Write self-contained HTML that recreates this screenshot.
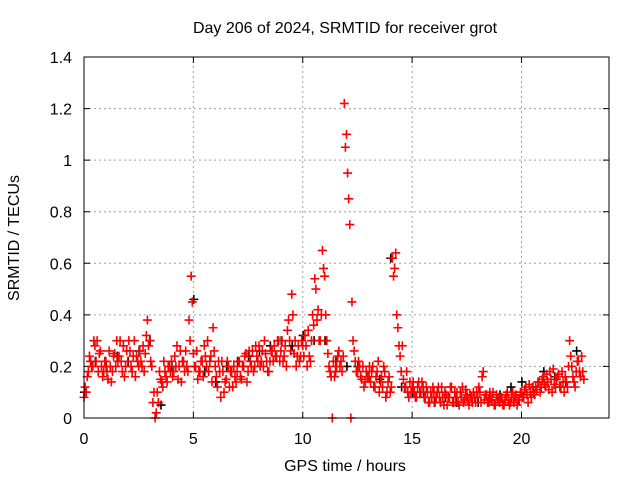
<!DOCTYPE html>
<html><head><meta charset="utf-8"><style>
html,body{margin:0;padding:0;background:#fff;}
svg{display:block;font-family:"Liberation Sans",sans-serif;}
</style></head><body>
<svg id="chart" width="640" height="480" viewBox="0 0 640 480">
<text x="345" y="33" text-anchor="middle" font-size="16">Day 206 of 2024, SRMTID for receiver grot</text>
<text x="345" y="471" text-anchor="middle" font-size="16">GPS time / hours</text>
<text transform="translate(19,238) rotate(-90)" text-anchor="middle" font-size="16">SRMTID / TECUs</text>
<g id="grid"></g>
<g id="ticks"></g>
<g id="marks"></g>
<rect x="84" y="57" width="525" height="361" fill="none" stroke="#000" stroke-width="1"/>
</svg>
<script>
const xTicks = [0, 5, 10, 15, 20];
const yTicks = [0, 0.2, 0.4, 0.6, 0.8, 1, 1.2, 1.4];
const yTickLabels = ["0", "0.2", "0.4", "0.6", "0.8", "1", "1.2", "1.4"];
const redStep = 0.1;
const redA = [
.08,.10,.18,.22,.20,.28,.30,.25,.20,.18,
.22,.15,.20,.18,.25,.30,.24,.22,.28,.20,
.22,.26,.18,.30,.24,.20,.22,.28,.25,.38,
.30,.20,.10,.02,.06,.15,.12,.18,.14,.20,
.22,.18,.20,.15,.26,.22,.18,.20,.38,.55,
.25,.20,.15,.18,.22,.28,.20,.18,.24,.35,
.20,.12,.18,.22,.10,.15,.20,.18,.12,.16,
.18,.22,.15,.20,.25,.18,.22,.26,.20,.24,
.28,.22,.20,.25,.18,.22,.26,.28,.24,.30,
.26,.22,.28,.34,.30,.48,.25,.20,.28,.24,
.28,.32,.20,.24,.30,.36,.50,.42,.30,.65,
.55,.30,.20,.16,.22,.18,.24,.20,.18,1.22,
1.10,.85,.00,.30,.22,.18,.20,.15,.12,.18,
.16,.14,.20,.12,.18,.10,.16,.20,.08,.14,
.10,.62,.58,.40,.28,.18,.15,.12,.10,.14,
.12,.10,.08,.14,.10,.12,.08,.10,.06,.08,
.10,.08,.12,.06,.08,.10,.05,.08,.12,.06,
.08,.06,.10,.12,.07,.09,.05,.08,.10,.06,
.08,.10,.16,.07,.09,.06,.08,.10,.05,.07,
.06,.08,.05,.09,.07,.06,.10,.08,.05,.07,
.10,.08,.12,.06,.10,.12,.09,.11,.14,.12,
.16,.12,.14,.18,.10,.13,.15,.17,.12,.14,
.16,.12,.30,.20,.14,.18,.22,.16,.18];
const redB = [
.12,.16,.24,.20,.30,.22,.18,.26,.16,.22,
.18,.26,.14,.24,.20,.22,.30,.18,.16,.26,
.30,.20,.24,.16,.22,.26,.20,.18,.32,.28,
.22,.06,.00,.10,.18,.14,.22,.16,.20,.18,
.16,.24,.28,.20,.14,.22,.26,.18,.30,.45,
.20,.26,.18,.22,.16,.24,.30,.22,.14,.26,
.16,.22,.08,.18,.14,.22,.12,.18,.20,.14,
.22,.16,.20,.24,.14,.26,.20,.18,.28,.22,
.20,.26,.30,.22,.18,.26,.22,.24,.30,.22,
.30,.24,.20,.38,.26,.40,.30,.24,.22,.30,
.24,.28,.34,.22,.40,.54,.38,.30,.40,.58,
.40,.25,.18,.00,.16,.20,.26,.22,.24,1.05,
.95,.75,.45,.26,.18,.22,.16,.20,.14,.16,
.20,.18,.12,.16,.22,.14,.12,.18,.10,.16,
.12,.55,.64,.35,.24,.28,.12,.18,.08,.10,
.14,.08,.12,.10,.14,.08,.12,.06,.10,.12,
.06,.10,.08,.12,.05,.09,.08,.12,.06,.10,
.10,.05,.08,.06,.11,.07,.09,.06,.08,.10,
.12,.06,.18,.09,.06,.10,.07,.05,.09,.08,
.08,.05,.07,.10,.05,.08,.06,.09,.07,.10,
.08,.11,.09,.13,.08,.10,.12,.14,.10,.15,
.13,.17,.11,.15,.19,.12,.16,.12,.18,.10,
.14,.20,.24,.16,.12,.22,.18,.24,.15];
const blackStep = 0.5;
const blackVals = [.10,.22,.20,.24,.22,.26,.30,.05,.20,.22,.46,.18,.14,.20,.22,.24,.26,.28,.30,.28,.32,.30,.30,.22,.20,.20,.16,.15,.62,.12,.10,.10,.06,.08,.06,.08,.06,.07,.09,.12,.14,.12,.18,.16,.14,.26];

const X0 = 84, X1 = 609, Y0 = 418, Y1 = 57, XMAX = 24, YMAX = 1.4;
function xs(v){ return X0 + (X1 - X0) * v / XMAX; }
function ys(v){ return Y0 - (Y0 - Y1) * v / YMAX; }
const NS = "http://www.w3.org/2000/svg";
const grid = document.getElementById('grid');
const ticks = document.getElementById('ticks');
const marks = document.getElementById('marks');
function mk(tag, attrs, parent){ const e = document.createElementNS(NS, tag); for (const k in attrs) e.setAttribute(k, attrs[k]); parent.appendChild(e); return e; }

xTicks.forEach(t => {
  const x = xs(t);
  if (t > 0) {
    const g = mk('line', {x1:x, y1:Y0, x2:x, y2:Y1, stroke:'#a0a0a0', 'stroke-dasharray':'2,3'}, grid);
    
    
  }
  const tk = mk('path', {d:`M${x},${Y0}v-6M${x},${Y1}v6`, stroke:'#000'}, ticks);
  
  
  const lb = mk('text', {x:x, y:444, 'text-anchor':'middle', 'font-size':'16'}, ticks);
  lb.textContent = String(t);
  
  
});
yTicks.forEach((t, i) => {
  const y = ys(t);
  if (t > 0 && t < YMAX) {
    const g = mk('line', {x1:X0, y1:y, x2:X1, y2:y, stroke:'#a0a0a0', 'stroke-dasharray':'2,3'}, grid);
    
    
  }
  const tk = mk('path', {d:`M${X0},${y}h6M${X1},${y}h-6`, stroke:'#000'}, ticks);
  
  
  const lb = mk('text', {x:72, y:y+6, 'text-anchor':'end', 'font-size':'16'}, ticks);
  lb.textContent = yTickLabels[i];
  
  
});
function plus(t, v, color){
  const x = xs(t), y = ys(v);
  const p = mk('path', {d:`M${x-4.5},${y}h9M${x},${y-4.5}v9`, stroke:color, 'stroke-width':'1.6', fill:'none'}, marks);
  
  
}
blackVals.forEach((v, i) => plus(i * blackStep + 0.02, v, '#000'));
redA.forEach((v, i) => plus(i * redStep, v, '#ff0000'));
redB.forEach((v, i) => plus(i * redStep + 0.05, v, '#ff0000'));
</script>
</body></html>
